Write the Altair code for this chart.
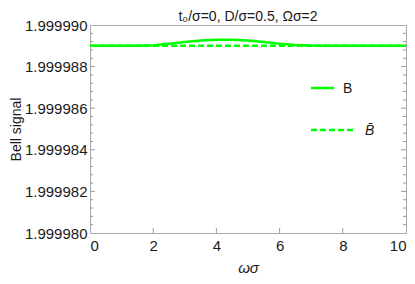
import altair as alt
import pandas as pd

# ---- data ----
omega = [0, 0.5, 1, 1.5, 2, 2.5, 3, 3.5, 4, 4.5, 5, 5.5, 6, 6.5, 7, 7.5, 8, 8.5, 9, 9.5, 10]
B = [1.9999890, 1.9999890, 1.9999890, 1.9999890, 1.99998903, 1.9999891, 1.99998918,
     1.99998925, 1.99998929, 1.99998929, 1.99998925, 1.99998918, 1.9999891, 1.99998904,
     1.99998901, 1.9999890, 1.9999890, 1.9999890, 1.9999890, 1.9999890, 1.9999890]
Bbar = [1.9999890] * len(omega)

y_major = [1.999980, 1.999982, 1.999984, 1.999986, 1.999988, 1.999990]
y_minor = [1.999980 + 0.0000004 * i for i in range(26) if i % 5 != 0]
x_major = [0, 2, 4, 6, 8, 10]
legend_labels = ["B", "B\u0304"]
title_text = ["t₀/σ=0, D/σ=0.5, Ωσ=2"]

W, H = 316, 208
GREEN = "#00ff00"
FONT = "Liberation Sans"
TXT = "#1a1a1a"

df = pd.DataFrame({"omega": omega, "B": B, "Bbar": Bbar})
ydomain = [y_major[0], y_major[-1]]
xdomain = [x_major[0], x_major[-1]]

xs = alt.Scale(domain=xdomain, nice=False, zero=False)
ys = alt.Scale(domain=ydomain, nice=False, zero=False)

base = alt.Chart(df)

line_b = base.mark_line(color=GREEN, strokeWidth=2.5, clip=True).encode(
    x=alt.X("omega:Q", scale=xs,
            axis=alt.Axis(values=x_major, title="ωσ", ticks=False, grid=False,
                          labelPadding=5, titleFontStyle="italic", titleFontWeight="normal",
                          titlePadding=7)),
    y=alt.Y("B:Q", scale=ys,
            axis=alt.Axis(values=y_major, format=".6f", title="Bell signal", ticks=False,
                          grid=False, labelPadding=3, titleFontWeight="normal",
                          titlePadding=1, titleFontSize=14)),
)
line_bbar = base.mark_line(color=GREEN, strokeWidth=2.5, strokeDash=[6, 3], clip=True).encode(
    x=alt.X("omega:Q", scale=xs), y=alt.Y("Bbar:Q", scale=ys)
)

ymaj_df = pd.DataFrame({"v": y_major[1:-1]})
ymin_df = pd.DataFrame({"v": y_minor})
xmaj_df = pd.DataFrame({"v": x_major[1:-1]})

TC = "#999999"
tick_l_maj = alt.Chart(ymaj_df).mark_rule(color=TC).encode(
    y=alt.Y("v:Q", scale=ys), x=alt.value(0), x2=alt.value(5))
tick_l_min = alt.Chart(ymin_df).mark_rule(color=TC).encode(
    y=alt.Y("v:Q", scale=ys), x=alt.value(0), x2=alt.value(3))
tick_r_maj = alt.Chart(ymaj_df).mark_rule(color=TC).encode(
    y=alt.Y("v:Q", scale=ys), x=alt.value(W - 5), x2=alt.value(W))
tick_r_min = alt.Chart(ymin_df).mark_rule(color=TC).encode(
    y=alt.Y("v:Q", scale=ys), x=alt.value(W - 3), x2=alt.value(W))
tick_b_maj = alt.Chart(xmaj_df).mark_rule(color=TC).encode(
    x=alt.X("v:Q", scale=xs), y=alt.value(H - 5), y2=alt.value(H))

# legend (manual, inside plot)
leg1 = alt.Chart(pd.DataFrame({"l": [legend_labels[0]]})).mark_rule(
    color=GREEN, strokeWidth=2.5).encode(x=alt.value(221), x2=alt.value(244), y=alt.value(63))
leg2 = alt.Chart(pd.DataFrame({"l": [legend_labels[1]]})).mark_rule(
    color=GREEN, strokeWidth=2.5, strokeDash=[6, 3]).encode(
    x=alt.value(221), x2=alt.value(266), y=alt.value(105))
legt1 = alt.Chart(pd.DataFrame({"l": [legend_labels[0]]})).mark_text(
    align="left", baseline="alphabetic", fontSize=14, font=FONT, color=TXT).encode(
    x=alt.value(253), y=alt.value(68), text="l:N")
legt2 = alt.Chart(pd.DataFrame({"l": [legend_labels[1]]})).mark_text(
    align="left", baseline="alphabetic", fontSize=14, font=FONT, fontStyle="italic",
    color=TXT).encode(x=alt.value(275), y=alt.value(110), text="l:N")

# title as text above the plot
title_mark = alt.Chart(pd.DataFrame({"t": title_text})).mark_text(
    align="center", baseline="alphabetic", fontSize=14, font=FONT, color=TXT).encode(
    x=alt.value(W / 2), y=alt.value(-4), text="t:N")

chart = alt.layer(
    line_bbar, line_b, tick_l_maj, tick_l_min, tick_r_maj, tick_r_min, tick_b_maj,
    leg1, leg2, legt1, legt2, title_mark
).properties(
    width=W, height=H,
    autosize=alt.AutoSizeParams(type="none"),
    padding={"left": 82, "top": 17, "right": 1, "bottom": 43},
).configure_view(
    stroke="#aaaaaa", strokeWidth=1
).configure_axis(
    labelFont=FONT, titleFont=FONT, labelFontSize=15, titleFontSize=15,
    labelColor=TXT, titleColor=TXT, domainColor="#aaaaaa"
)

chart.save("out.html", embed_options={"renderer": "svg", "actions": False})
